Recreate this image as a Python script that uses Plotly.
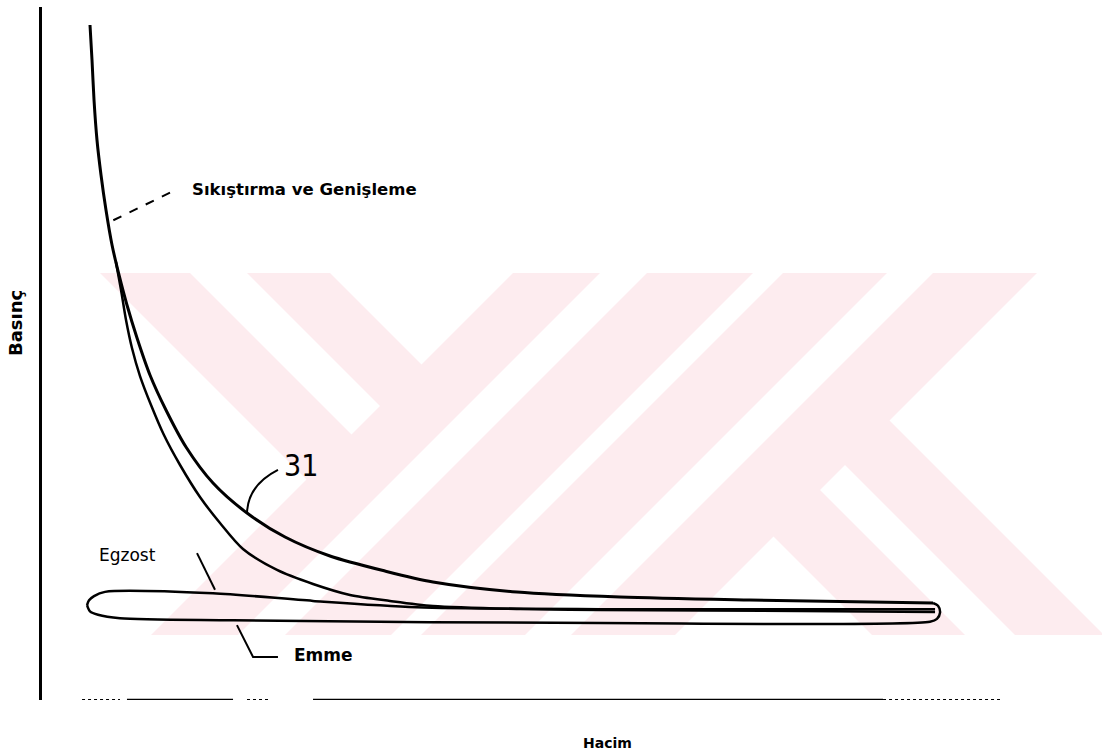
import plotly.graph_objects as go

# ---------------- data (volume V, pressure P in arbitrary units 0..100) ----------------
expansion_v = [5.01, 5.22, 5.43, 5.74, 6.16, 6.68, 7.31, 8.04, 8.87, 9.92, 11.27, 12.94,
               15.03, 17.85, 21.40, 25.37, 30.06, 35.80, 40.81, 49.58, 60.33, 73.90, 93.01]
expansion_p = [97.40, 92.35, 86.58, 80.81, 75.76, 70.71, 65.66, 61.33, 57.00, 52.24, 46.90, 41.85,
               36.51, 31.31, 26.98, 23.52, 20.78, 18.61, 17.03, 15.58, 14.86, 14.43, 14.00]

compression_v = [7.72, 8.25, 8.77, 9.39, 10.23, 11.38, 12.73, 14.41, 16.49, 18.58, 20.98,
                 24.53, 28.29, 32.15, 36.33, 40.81, 49.90, 58.25, 79.12, 93.22]
compression_p = [63.20, 59.16, 54.83, 50.79, 46.75, 42.57, 38.24, 33.91, 29.29, 25.54, 21.79,
                 18.76, 16.74, 15.15, 14.29, 13.56, 13.13, 12.99, 12.84, 12.70]

exhaust_v = [4.70, 4.91, 5.43, 6.58, 17.85, 28.29, 39.14, 58.25, 93.22]
exhaust_p = [13.7, 14.4, 15.0, 15.6, 15.4, 14.3, 13.4, 13.1, 13.1]

intake_v = [4.70, 5.01, 5.85, 8.14, 19.94, 58.25, 92.69, 93.42, 93.74, 93.53, 93.01]
intake_p = [13.7, 12.8, 12.3, 11.8, 11.5, 11.1, 11.3, 11.7, 12.6, 13.6, 14.0]

labels = {
    "main": "Sıkıştırma ve Genişleme",
    "exhaust": "Egzost",
    "intake": "Emme",
    "ref": "31",
    "xtitle": "Hacim",
    "ytitle": "Basınç",
}

# ---------------- layout geometry ----------------
W, H = 1102, 756
L, R, T, B = 42, 102, 7, 56
PW, PH = W - L - R, H - T - B


def px2paper(x, y):
    return (x - L) / PW, (H - B - y) / PH


def clip(poly, a, b, c):
    """keep a*x + b*y <= c"""
    out = []
    n = len(poly)
    for i in range(n):
        p, q = poly[i], poly[(i + 1) % n]
        fp = a * p[0] + b * p[1] - c
        fq = a * q[0] + b * q[1] - c
        if fp <= 0:
            out.append(p)
        if fp * fq < 0:
            t = fp / (fp - fq)
            out.append((p[0] + t * (q[0] - p[0]), p[1] + t * (q[1] - p[1])))
    return out


# watermark stripes (half-plane constraints in pixel space)
band = [(0, 273), (W, 273), (W, 635), (0, 635)]
stripes = [
    [(1, -1, -83), (-1, 1, 173), (1, 1, 788)],
    [(1, -1, 57), (-1, 1, 26), (1, 1, 788)],
    [(-1, -1, -786), (1, 1, 873)],
    [(-1, -1, -920), (1, 1, 1026)],
    [(-1, -1, -1056), (1, 1, 1160)],
    [(-1, -1, -1206), (1, 1, 1310)],
    [(1, -1, 469), (-1, 1, -380), (-1, -1, -1300)],
    [(1, -1, 330), (-1, 1, -237), (-1, -1, -1300)],
]

shapes = []
for cons in stripes:
    poly = band[:]
    for a, b, c in cons:
        poly = clip(poly, a, b, c)
    if len(poly) < 3:
        continue
    pts = [px2paper(x, y) for x, y in poly]
    path = "M " + " L ".join(f"{x:.5f},{y:.5f}" for x, y in pts) + " Z"
    shapes.append(dict(type="path", path=path, xref="paper", yref="paper",
                       fillcolor="#fdecef", line=dict(width=0), layer="below"))

# x-axis drawn as a broken scanned line
axis_solid = [(8.87, 19.94), (28.29, 87.79)]
axis_dotted = [(4.18, 8.14), (21.40, 23.80), (87.79, 100.0)]
for x0, x1 in axis_solid:
    shapes.append(dict(type="line", xref="x", yref="y", x0=x0, x1=x1, y0=0, y1=0,
                       line=dict(color="black", width=2.5)))
for x0, x1 in axis_dotted:
    shapes.append(dict(type="line", xref="x", yref="y", x0=x0, x1=x1, y0=0, y1=0,
                       line=dict(color="black", width=2, dash="dot")))

# leader lines
shapes.append(dict(type="line", xref="x", yref="y", x0=13.36, y0=73.2, x1=7.10, y1=69.0,
                   line=dict(color="black", width=2, dash="dash")))
shapes.append(dict(type="path", xref="x", yref="y",
                   path="M 24.63,33.2 Q 21.5,31.0 21.40,27.0",
                   line=dict(color="black", width=2)))
shapes.append(dict(type="line", xref="x", yref="y", x0=16.18, y0=21.2, x1=18.06, y1=15.9,
                   line=dict(color="black", width=2)))
shapes.append(dict(type="path", xref="x", yref="y",
                   path="M 20.35,10.8 L 22.03,6.2 L 24.63,6.2",
                   line=dict(color="black", width=2)))

fig = go.Figure()
for xs, ys, w in [(expansion_v, expansion_p, 3), (compression_v, compression_p, 2.5),
                  (exhaust_v, exhaust_p, 2.5), (intake_v, intake_p, 2.5)]:
    fig.add_trace(go.Scatter(x=xs, y=ys, mode="lines",
                             line=dict(shape="spline", smoothing=0.8, color="black", width=w),
                             showlegend=False, hoverinfo="skip"))

font_b = dict(family="DejaVu Sans", color="black")
annotations = [
    dict(x=15.45, y=73.7, text=f"<b>{labels['main']}</b>", xanchor="left", yanchor="middle",
         showarrow=False, font=dict(size=16.5, **font_b)),
    dict(x=5.74, y=20.9, text=labels["exhaust"], xanchor="left", yanchor="middle",
         showarrow=False, font=dict(size=17, family="DejaVu Sans", color="black")),
    dict(x=26.10, y=6.5, text=f"<b>{labels['intake']}</b>", xanchor="left", yanchor="middle",
         showarrow=False, font=dict(size=17, **font_b)),
    dict(x=27.0, y=33.8, text=labels["ref"], xanchor="center", yanchor="middle",
         showarrow=False, font=dict(size=30, family="DejaVu Sans Condensed, Liberation Sans, sans-serif",
                                    color="black")),
    dict(x=58.98, y=-0.062, yref="paper", text=f"<b>{labels['xtitle']}</b>", xanchor="center",
         yanchor="middle", showarrow=False, font=dict(size=14, **font_b)),
    dict(x=-0.0282, xref="paper", y=0.544, yref="paper", text=f"<b>{labels['ytitle']}</b>",
         textangle=-90, xanchor="center", yanchor="middle", showarrow=False,
         font=dict(size=18, **font_b)),
]

fig.update_layout(
    width=W, height=H,
    margin=dict(l=L, r=R, t=T, b=B),
    paper_bgcolor="white", plot_bgcolor="rgba(0,0,0,0)",
    shapes=shapes, annotations=annotations,
    xaxis=dict(range=[0, 100], showgrid=False, zeroline=False, showticklabels=False,
               ticks="", showline=False),
    yaxis=dict(range=[0, 100], showgrid=False, zeroline=False, showticklabels=False,
               ticks="", showline=True, linecolor="black", linewidth=2.5),
)

fig.write_html("out.html")
